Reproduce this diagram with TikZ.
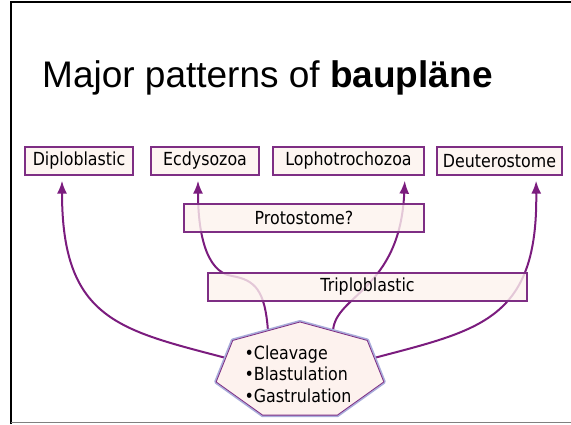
\documentclass[tikz,border=0pt]{standalone}
\usepackage{fontspec}
\setmainfont[FakeStretch=0.88]{DejaVu Sans}
\newfontfamily\titlefont{Liberation Sans}
\usetikzlibrary{arrows.meta, backgrounds}

\definecolor{boxfill}{HTML}{FDF2EE}
\definecolor{boxline}{HTML}{7E2E84}
\definecolor{arrowline}{HTML}{7B1C7E}
\definecolor{glow}{HTML}{A9ACDB}

\begin{document}
\begin{tikzpicture}[
  x=1pt, y=1pt,
  box/.style={rectangle, draw=boxline, line width=1.3pt, fill=boxfill, fill opacity=0.8, text opacity=1, minimum height=28pt, inner sep=0pt, font=\fontsize{18}{22}\selectfont},
  arrow/.style={-{Latex[length=13pt, width=10pt]}, draw=arrowline, line width=2pt, shorten >=5pt}
  ]
\useasboundingbox (0,0) rectangle (571,424);

\draw[line width=2pt] (11,0) -- (11,421.5) -- (571,421.5);
\draw[gray, line width=1.5pt] (11,1.5) -- (571,1.5);

\node[anchor=base west, inner sep=0pt, font=\titlefont\fontsize{37}{44}\selectfont] (title) at (42,336) {Major patterns of \textbf{baupläne}};

\node[box, minimum width=108pt] (dipl) at (79,263) {Diploblastic};
\node[box, minimum width=108pt] (ecdy) at (205,263) {Ecdysozoa};
\node[box, minimum width=151pt] (loph) at (348.5,263) {Lophotrochozoa};
\node[box, minimum width=125pt] (deut) at (499.5,263) {Deuterostome};

\node[box, minimum width=240pt] (proto) at (304,206) {Protostome?};
\node[box, minimum width=319pt] (triplo) at (367.5,137) {Triploblastic};

\foreach \k in {0,...,6}
  \coordinate (v\k) at ({300+86*cos(90+\k*360/7)}, {53+49*sin(90+\k*360/7)});
\draw[glow, line width=4pt, line join=round] (v0) -- (v1) -- (v2) -- (v3) -- (v4) -- (v5) -- (v6) -- cycle;
\draw[boxline, line width=0.8pt, fill=boxfill] (v0) -- (v1) -- (v2) -- (v3) -- (v4) -- (v5) -- (v6) -- cycle;

\node[align=left, inner sep=0pt, font=\fontsize{18}{21.5}\selectfont] (stages) at (298,50) {•Cleavage\\•Blastulation\\•Gastrulation};

\coordinate (h1) at (226,66);
\coordinate (h2) at (268,93);
\coordinate (h3) at (333,93);
\coordinate (h4) at (374,66);

\begin{scope}[on background layer]
\draw[arrow] (h1) .. controls (120,94) and (62,104) .. ([xshift=-17pt]dipl.south);
\draw[arrow] (h2) .. controls (265,134) and (255,144) .. (232,148) .. controls (205,152) and (198,194) .. ([xshift=-7pt]ecdy.south);
\draw[arrow] (h3) .. controls (335,129) and (400,134) .. ([xshift=56.5pt]loph.south);
\draw[arrow] (h4) .. controls (480,94) and (538,104) .. ([xshift=36.5pt]deut.south);
\end{scope}

\end{tikzpicture}
\end{document}
